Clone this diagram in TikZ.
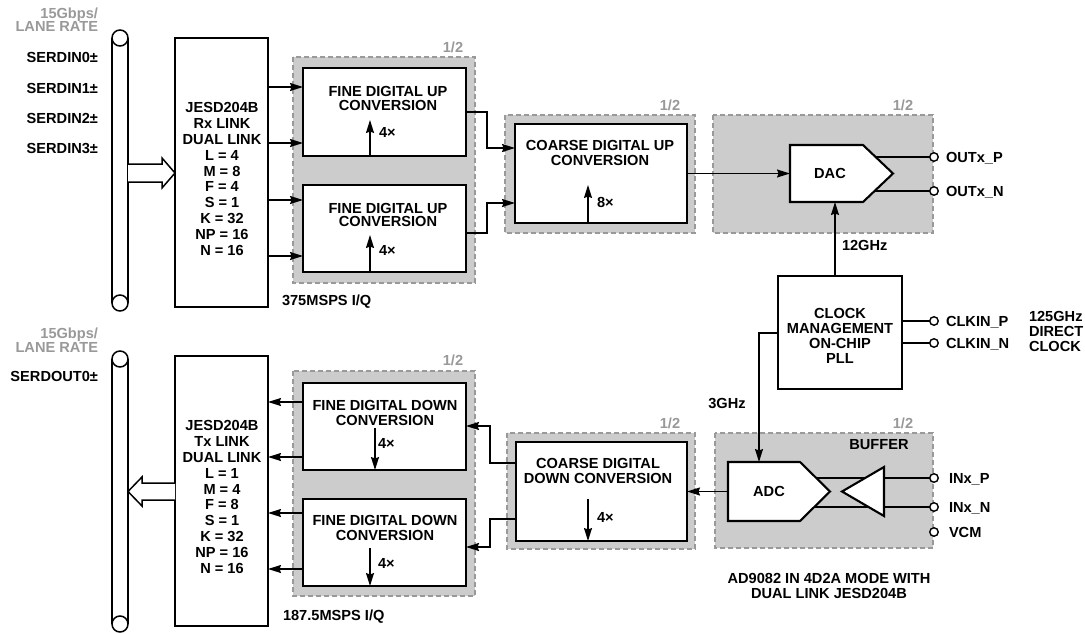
\documentclass[tikz,border=0pt]{standalone}
\usepackage{fontspec}
\setmainfont{Liberation Sans}
\usetikzlibrary{arrows.meta}
\definecolor{grpfill}{HTML}{CCCCCC}
\definecolor{grpline}{HTML}{999999}
\definecolor{lbl}{HTML}{999999}
\begin{document}
\begin{tikzpicture}[x=1pt,y=-1pt,
  every node/.style={inner sep=0pt, outer sep=0pt},
  ft/.style={font=\fontsize{14.6}{#1}\selectfont\bfseries},
  ft/.default=15,
  blk/.style={draw, line width=2.1pt, fill=white, rectangle},
  grp/.style={fill=grpfill, draw=grpline, line width=1.4pt, dash pattern=on 5pt off 3pt},
  conn/.style={line width=1.3pt, -{Stealth[length=13pt,width=8pt,inset=1.5pt]}},
  wire/.style={line width=1.4pt},
  pin/.style={circle, draw, fill=white, line width=1.4pt, minimum size=8.5pt},
  half/.style={ft, text=lbl},
  hollow/.style={draw, line width=1.5pt, fill=white, line join=miter},
  shp/.style={draw, line width=2.1pt, fill=white, line join=miter},
]
\useasboundingbox (0,0) rectangle (1085,634);

% ---------- gray groups ----------
\draw[grp] (293,57) rectangle (475,283);
\draw[grp] (505,115) rectangle (695,233);
\draw[grp] (713,115) rectangle (933,233);
\draw[grp] (293,371) rectangle (475,596);
\draw[grp] (507,433) rectangle (695,549);
\draw[grp] (715,433) rectangle (933,548);

\node[half] (h1) at (453,47) {1/2};
\node[half] (h2) at (670,105) {1/2};
\node[half] (h3) at (903,105) {1/2};
\node[half] (h4) at (453,360) {1/2};
\node[half] (h5) at (670,423) {1/2};
\node[half] (h6) at (903,423) {1/2};

% ---------- serial buses ----------
\draw[line width=1.5pt] (112,38) -- (112,303) (128,38) -- (128,303);
\draw[line width=1.5pt, fill=white] (120,38) circle (8) (120,303) circle (8);
\draw[line width=1.5pt] (112,359) -- (112,624) (128,359) -- (128,624);
\draw[line width=1.5pt, fill=white] (120,359) circle (8) (120,624) circle (8);

\node[ft=13.5, text=lbl, align=right, anchor=east] (rate1) at (98,19.5) {15Gbps/\\LANE RATE};
\node[ft=13.5, text=lbl, align=right, anchor=east] (rate2) at (98,340) {15Gbps/\\LANE RATE};
\node[ft, anchor=base east] (sd0) at (98,63) {SERDIN0±};
\node[ft, anchor=base east] (sd1) at (98,93) {SERDIN1±};
\node[ft, anchor=base east] (sd2) at (98,123) {SERDIN2±};
\node[ft, anchor=base east] (sd3) at (98,153) {SERDIN3±};
\node[ft, anchor=base east] (so0) at (98,381) {SERDOUT0±};

% ---------- JESD blocks ----------
\node[blk, minimum width=93pt, minimum height=269pt] (jr) at (221.5,172.5) {};
\node[ft=15.8, align=center] (jrt) at (222,179) {JESD204B\\Rx LINK\\DUAL LINK\\L = 4\\M = 8\\F = 4\\S = 1\\K = 32\\NP = 16\\N = 16};
\node[blk, minimum width=93pt, minimum height=270pt] (jt) at (221.5,491) {};
\node[ft=15.8, align=center] (jtt) at (222,497) {JESD204B\\Tx LINK\\DUAL LINK\\L = 1\\M = 4\\F = 8\\S = 1\\K = 32\\NP = 16\\N = 16};

\draw[hollow] (128,164) -- (162,164) -- (162,158) -- (jr.west |- 0,173) -- (162,188) -- (162,182) -- (128,182);
\draw[hollow] (jt.west |- 0,483) -- (142,483) -- (142,477) -- (128,491.5) -- (142,506) -- (142,500) -- (jt.west |- 0,500);

% ---------- fine up ----------
\node[blk, minimum width=163pt, minimum height=88pt] (fu1) at (384.5,112) {};
\node[ft=13.5, align=center] (fu1t) at (388,98.5) {FINE DIGITAL UP\\CONVERSION};
\node[blk, minimum width=163pt, minimum height=87pt] (fu2) at (384.5,228.5) {};
\node[ft=13.5, align=center] (fu2t) at (388,215) {FINE DIGITAL UP\\CONVERSION};
\draw[conn] (fu1.south -| 370,0) -- (370,120);
\node[ft, anchor=base west] (fu1x) at (379,137) {4×};
\draw[conn] (fu2.south -| 370,0) -- (370,235);
\node[ft, anchor=base west] (fu2x) at (379,255) {4×};

\node[ft, anchor=base west] (rxr) at (282,305) {375MSPS I/Q};

% ---------- coarse up ----------
\node[blk, minimum width=172pt, minimum height=99pt] (cu) at (601,173.5) {};
\node[ft, align=center] (cut) at (600,152.5) {COARSE DIGITAL UP\\CONVERSION};
\draw[conn] (cu.south -| 588,0) -- (588,185);
\node[ft, anchor=base west] (cux) at (597,207) {8×};

% ---------- DAC ----------
\draw[shp] (790,145) -- (863,145) -- (893,173.5) -- (863,202) -- (790,202) -- cycle;
\coordinate (dacw) at (790,173.5);
\coordinate (dacs) at (835,202);
\coordinate (dacP) at (875.4,157);
\coordinate (dacN) at (875.4,191);
\node[ft] (dact) at (830,173.5) {DAC};
\node[pin] (pOP) at (934,157) {};
\node[pin] (pON) at (934,191) {};
\draw[wire] (dacP) -- (pOP.west);
\draw[wire] (dacN) -- (pON.west);
\node[ft, anchor=base west] (lOP) at (946,162) {OUTx\_P};
\node[ft, anchor=base west] (lON) at (946,196) {OUTx\_N};

% ---------- clock ----------
\node[blk, minimum width=124pt, minimum height=113pt] (clk) at (840,332.5) {};
\node[ft, align=center] (clkt) at (840,335.5) {CLOCK\\MANAGEMENT\\ON-CHIP\\PLL};
\node[pin] (pCP) at (934,321) {};
\node[pin] (pCN) at (934,343) {};
\draw[wire] (clk.east |- 0,321) -- (pCP.west);
\draw[wire] (clk.east |- 0,343) -- (pCN.west);
\node[ft, anchor=base west] (lCP) at (946,326) {CLKIN\_P};
\node[ft, anchor=base west] (lCN) at (946,348) {CLKIN\_N};
\node[ft, align=left, anchor=west] (lclk) at (1029,331) {125GHz\\DIRECT\\CLOCK};

\draw[conn] (clk.north -| dacs) -- (dacs);
\node[ft, anchor=base west] (l12) at (842,250) {12GHz};

% ---------- ADC + buffer ----------
\draw[shp] (728,462) -- (800,462) -- (830,491.5) -- (800,521) -- (728,521) -- cycle;
\coordinate (adcw) at (728,491.5);
\coordinate (adcn) at (759,462);
\coordinate (adcP) at (816.3,478);
\coordinate (adcN) at (814.2,507);
\node[ft] (adct) at (769,491.5) {ADC};
\node[pin] (pIP) at (934,478) {};
\node[pin] (pIN) at (934,507) {};
\node[pin] (pVC) at (934,532) {};
\draw[wire] (adcP) -- (pIP.west);
\draw[wire] (adcN) -- (pIN.west);
\draw[shp] (842,491.5) -- (884,467) -- (884,516) -- cycle;
\node[ft] (buf) at (879,445) {BUFFER};
\node[ft, anchor=base west] (lIP) at (949,483) {INx\_P};
\node[ft, anchor=base west] (lIN) at (949,512) {INx\_N};
\node[ft, anchor=base west] (lVC) at (949,537) {VCM};

\draw[conn] (clk.west |- 0,333) -| (adcn);
\node[ft] (l3) at (727,403) {3GHz};

\node[ft, align=center] (cap) at (829,585.5) {AD9082 IN 4D2A MODE WITH\\DUAL LINK JESD204B};

% ---------- coarse down ----------
\node[blk, minimum width=171pt, minimum height=99pt] (cd) at (601.5,491.5) {};
\node[ft, align=center] (cdt) at (598,470.5) {COARSE DIGITAL\\DOWN CONVERSION};
\draw[conn] (588,499) -- (cd.south -| 588,0);
\node[ft, anchor=base west] (cdx) at (597,522) {4×};
\draw[conn] (adcw) -- (cd.east);

% ---------- fine down ----------
\node[blk, minimum width=163pt, minimum height=87pt] (fd1) at (384.5,426.5) {};
\node[ft, align=center] (fd1t) at (385,412.5) {FINE DIGITAL DOWN\\CONVERSION};
\node[blk, minimum width=163pt, minimum height=87pt] (fd2) at (384.5,542.5) {};
\node[ft, align=center] (fd2t) at (385,527.5) {FINE DIGITAL DOWN\\CONVERSION};
\draw[conn] (375,428) -- (fd1.south -| 375,0);
\node[ft, anchor=base west] (fd1x) at (378,448) {4×};
\draw[conn] (370,548) -- (fd2.south -| 370,0);
\node[ft, anchor=base west] (fd2x) at (378,568) {4×};

\node[ft, anchor=base west] (txr) at (283,620) {187.5MSPS I/Q};

% ---------- connectors ----------
\draw[conn] (jr.east |- 0,87) -- (fu1.west |- 0,87);
\draw[conn] (jr.east |- 0,143) -- (fu1.west |- 0,143);
\draw[conn] (jr.east |- 0,200) -- (fu2.west |- 0,200);
\draw[conn] (jr.east |- 0,256) -- (fu2.west |- 0,256);

\draw[conn] (fu1.east) -- (487,112) -- (487,148) -- (cu.west |- 0,148);
\draw[conn] (fu2.east |- 0,233) -- (487,233) -- (487,203) -- (cu.west |- 0,203);
\draw[conn] (cu.east) -- (dacw);

\draw[conn] (cd.west |- 0,463) -- (490,463) -- (490,426) -- (fd1.east |- 0,426);
\draw[conn] (cd.west |- 0,519) -- (490,519) -- (490,547) -- (fd2.east |- 0,547);

\draw[conn] (fd1.west |- 0,402) -- (jt.east |- 0,402);
\draw[conn] (fd1.west |- 0,457) -- (jt.east |- 0,457);
\draw[conn] (fd2.west |- 0,513) -- (jt.east |- 0,513);
\draw[conn] (fd2.west |- 0,569) -- (jt.east |- 0,569);
\end{tikzpicture}
\end{document}
